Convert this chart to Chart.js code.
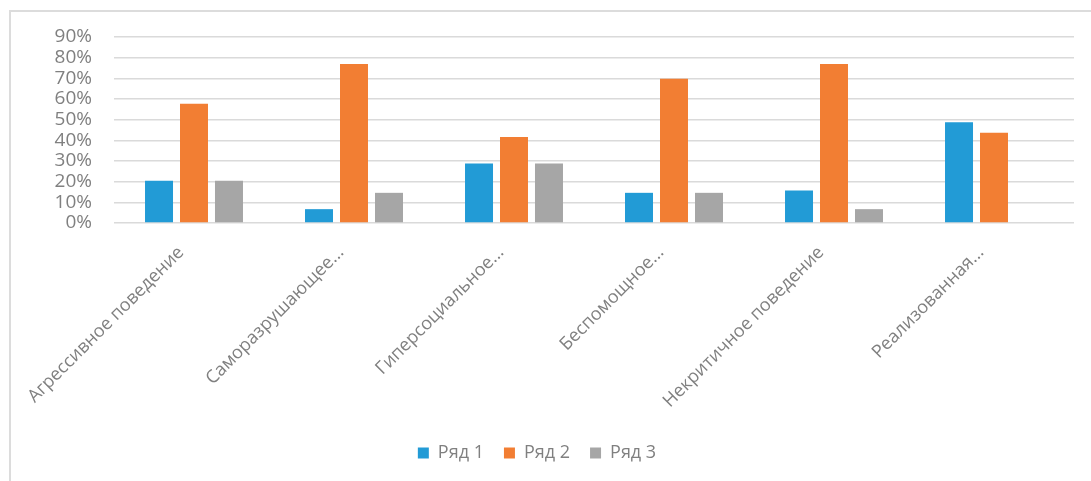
<!DOCTYPE html>
<html lang="ru">
<head>
<meta charset="utf-8">
<title>Ряды по типам поведения</title>
<script src="https://cdn.jsdelivr.net/npm/chart.js@4/dist/chart.umd.min.js"></script>
<style>
    html, body { margin: 0; padding: 0; background: #fff; }
    .wrap { position: relative; width: 1091px; height: 481px; overflow: hidden; }
    .frame {
        position: absolute; left: 9px; top: 10px; width: 1200px; height: 600px;
        border-left: 2px solid #dcdcdc; border-top: 2px solid #dcdcdc;
    }
    canvas { position: absolute; left: 0; top: 0; }
</style>
</head>
<body>
<div class="wrap">
    <div class="frame"></div>
    <canvas id="chart" width="1091" height="481"></canvas>
</div>
<script>
const categories = [
    'Агрессивное поведение',
    'Саморазрушающее...',
    'Гиперсоциальное...',
    'Беспомощное...',
    'Некритичное поведение',
    'Реализованная...'
];
const series1 = [20.5, 6.7, 28.8, 14.6, 15.7, 48.7];
const series2 = [57.7, 76.9, 41.6, 69.8, 76.9, 43.7];
const series3 = [20.5, 14.6, 28.8, 14.6, 6.7, 0];
const seriesNames = ['Ряд 1', 'Ряд 2', 'Ряд 3'];
const seriesColors = ['#229bd6', '#f27e33', '#a6a6a6'];
const yTicks = [0, 10, 20, 30, 40, 50, 60, 70, 80, 90];

const textColor = '#808080';
const fontFamily = '"Open Sans", "Noto Sans", sans-serif';
const padBottom = 9;
const plotBottom = 223;

const datasets = [series1, series2, series3].map((values, i) => ({
    label: seriesNames[i],
    data: values,
    backgroundColor: seriesColors[i],
    borderWidth: 0,
    barPercentage: 0.8,
    categoryPercentage: 0.656
}));

new Chart(document.getElementById('chart').getContext('2d'), {
    type: 'bar',
    data: { labels: categories, datasets: datasets },
    options: {
        responsive: false,
        animation: false,
        layout: { padding: { left: 0, right: 17, top: 37, bottom: padBottom } },
        plugins: {
            tooltip: { enabled: false },
            legend: {
                position: 'bottom',
                labels: {
                    color: textColor,
                    font: { family: fontFamily, size: 18 },
                    boxWidth: 11,
                    boxHeight: 11,
                    padding: 20
                }
            }
        },
        scales: {
            x: {
                grid: { display: false },
                border: { display: false },
                afterFit: scale => {
                    const legendH = scale.chart.legend ? scale.chart.legend.height : 0;
                    scale.height = scale.chart.height - padBottom - legendH - plotBottom;
                },
                ticks: {
                    color: textColor,
                    font: { family: fontFamily, size: 18 },
                    minRotation: 45,
                    maxRotation: 45,
                    autoSkip: false,
                    padding: 11,
                    labelOffset: -13
                }
            },
            y: {
                min: 0,
                max: 90,
                afterFit: scale => { scale.width = 114; },
                afterBuildTicks: scale => { scale.ticks = yTicks.map(v => ({ value: v })); },
                grid: { color: '#dadada', lineWidth: 1.5, drawTicks: false },
                border: { display: false },
                ticks: {
                    color: textColor,
                    font: { family: fontFamily, size: 19 },
                    padding: 22,
                    autoSkip: false,
                    callback: v => v + '%'
                }
            }
        }
    }
});
</script>
</body>
</html>
